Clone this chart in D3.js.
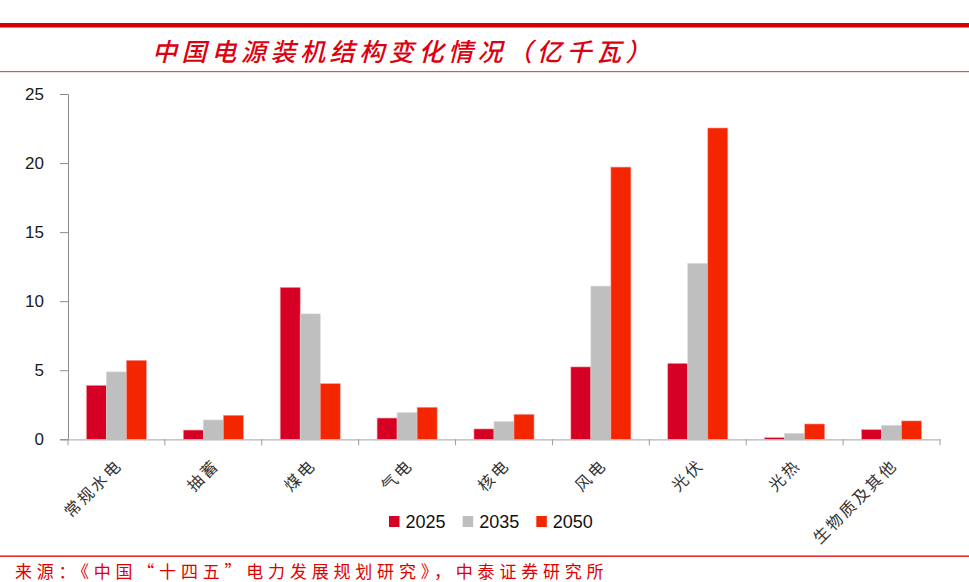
<!DOCTYPE html>
<html><head><meta charset="utf-8">
<script src="https://cdn.jsdelivr.net/npm/d3@7"></script>
<style>
html,body{margin:0;padding:0;background:#fff;}
svg{display:block;}
</style></head>
<body>
<svg id="chart" width="969" height="582"></svg>
<script>
const categories = ["常规水电","抽蓄","煤电","气电","核电","风电","光伏","光热","生物质及其他"];
const seriesNames = ["2025","2035","2050"];
const values2025 = [3.91, 0.67, 11.0, 1.54, 0.75, 5.24, 5.50, 0.12, 0.70];
const values2035 = [4.88, 1.40, 9.08, 1.93, 1.28, 11.09, 12.73, 0.43, 1.01];
const values2050 = [5.72, 1.74, 4.03, 2.32, 1.81, 19.71, 22.54, 1.11, 1.33];
const yTicks = [0, 5, 10, 15, 20, 25];
const titleText = "中国电源装机结构变化情况（亿千瓦）";
const sourceText = "来源：《中国“十四五”电力发展规划研究》，中泰证券研究所";

const colors = {"2025":"#D50024","2035":"#BFBFBF","2050":"#F42600"};
const seriesValues = {"2025":values2025,"2035":values2035,"2050":values2050};

const svg = d3.select("#chart");
const W = 969, H = 582;

// header lines
svg.append("rect").attr("x",0).attr("y",23).attr("width",W).attr("height",4).attr("fill","#D90000");
svg.append("rect").attr("x",0).attr("y",27).attr("width",W).attr("height",1).attr("fill","#F08080");
svg.append("rect").attr("x",0).attr("y",71).attr("width",W).attr("height",1.2).attr("fill","#E85050");

svg.append("text")
  .attr("x",152).attr("y",50)
  .attr("dominant-baseline","central")
  .attr("font-family","'Noto Sans CJK SC', sans-serif")
  .attr("font-size",25).attr("font-style","italic").attr("font-weight",500)
  .attr("letter-spacing",4.6)
  .attr("fill","#DD0010")
  .text(titleText);

// scales
const x0 = d3.scaleBand().domain(categories).range([68,940]).paddingInner(0).paddingOuter(0);
const x1 = d3.scaleBand().domain(seriesNames).range([0,x0.bandwidth()]).paddingInner(0).paddingOuter(0.92);
const y = d3.scaleLinear().domain([0,25]).range([439.3,94]);

// y axis
const yAxis = d3.axisLeft(y).tickValues(yTicks).tickSize(8).tickPadding(16).tickFormat(d3.format("d"));
const gy = svg.append("g").attr("transform","translate(68,0)").call(yAxis);
gy.select(".domain").attr("stroke","#8c8c8c");
gy.selectAll(".tick line").attr("stroke","#8c8c8c");
gy.selectAll(".tick text").attr("font-family","'Liberation Sans', Arial, sans-serif").attr("font-size",17).attr("fill","#1a1a1a");

// bars
const groups = svg.append("g").selectAll("g").data(categories).join("g")
  .attr("transform",d=>`translate(${x0(d)},0)`);
groups.selectAll("rect").data((c,i)=>seriesNames.map(s=>({s,v:seriesValues[s][i]}))).join("rect")
  .attr("x",d=>x1(d.s)).attr("width",x1.bandwidth())
  .attr("y",d=>y(d.v)).attr("height",d=>y(0)-y(d.v))
  .attr("fill",d=>colors[d.s])
  .attr("stroke",d=>d.s==="2035"?"#d8d8d8":"#f6a0a0").attr("stroke-width",0.6);

// x axis
const gx = svg.append("g").attr("transform",`translate(0,${y(0)})`)
  .call(d3.axisBottom(x0).tickSize(0).tickFormat(""));
gx.select(".domain").attr("stroke","#b5b5b5").attr("stroke-width",1.2);
const bounds = categories.map(c=>x0(c)).concat([x0.range()[1]]);
gx.selectAll("line.bt").data(bounds).join("line").attr("class","bt")
  .attr("x1",d=>d).attr("x2",d=>d).attr("y1",0).attr("y2",6).attr("stroke","#9a9a9a");
gx.selectAll("text.cat").data(categories).join("text").attr("class","cat")
  .attr("transform",d=>`translate(${x0(d)+x0.bandwidth()/2+2},${22}) rotate(-45)`)
  .attr("text-anchor","end").attr("dominant-baseline","central")
  .attr("font-family","'Noto Sans CJK SC', sans-serif")
  .attr("font-size",16).attr("letter-spacing",2.5)
  .attr("fill","#333")
  .text(d=>d);

// legend
const legendX = d3.scaleBand().domain(seriesNames).range([389,610]);
const lg = svg.append("g").selectAll("g").data(seriesNames).join("g")
  .attr("transform",d=>`translate(${legendX(d)},516)`);
lg.append("rect").attr("width",10.5).attr("height",11).attr("fill",d=>colors[d]);
lg.append("text").attr("x",16.5).attr("y",5.5).attr("dominant-baseline","central")
  .attr("font-family","'Liberation Sans', Arial, sans-serif").attr("font-size",18).attr("fill","#111")
  .text(d=>d);

// footer
svg.append("rect").attr("x",0).attr("y",555.5).attr("width",W).attr("height",1.3).attr("fill","#E00000");
svg.append("text").attr("x",15).attr("y",570.5).attr("dominant-baseline","central")
  .attr("font-family","'Noto Sans CJK SC', sans-serif").attr("font-size",17).attr("letter-spacing",4.8)
  .attr("fill","#E00000")
  .text(sourceText);
</script>
</body></html>
